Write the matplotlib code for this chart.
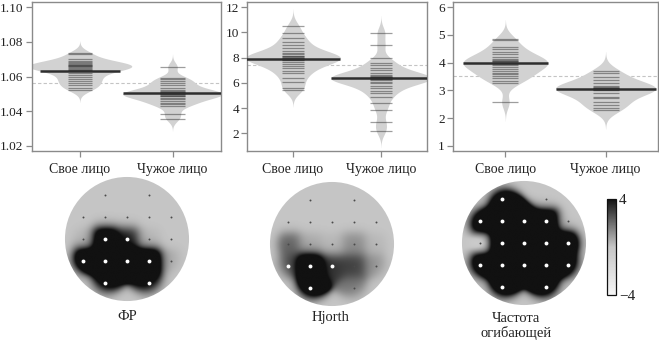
import numpy as np
import matplotlib
matplotlib.use("Agg")
import matplotlib.pyplot as plt
from matplotlib.colors import LinearSegmentedColormap
from matplotlib.patches import Circle

plt.rcParams["font.family"] = ["Liberation Serif", "DejaVu Serif"]

W, H = 659, 341

# ---------------- bean plot data ----------------
categories = ["Свое лицо", "Чужое лицо"]

fr_own = [1.0734, 1.0728, 1.0699, 1.0691, 1.0684, 1.0676, 1.0670, 1.0668, 1.0665,
          1.0661, 1.0660, 1.0653, 1.0650, 1.0645, 1.0640, 1.0638, 1.0622, 1.0611,
          1.0599, 1.0587, 1.0574, 1.0562, 1.0551, 1.0535, 1.0522]
fr_other = [1.0657, 1.0593, 1.0584, 1.0572, 1.0560, 1.0549, 1.0535, 1.0522, 1.0515,
            1.0510, 1.0508, 1.0503, 1.0500, 1.0497, 1.0495, 1.0490, 1.0487, 1.0478,
            1.0468, 1.0458, 1.0449, 1.0439, 1.0427, 1.0385, 1.0356]
fr_means = [1.0632, 1.0503]
fr_overall = 1.056

hj_own = [10.52, 9.94, 9.54, 9.28, 9.01, 8.75, 8.56, 8.40, 8.27, 8.14, 8.10, 8.05,
          8.00, 7.95, 7.90, 7.85, 7.82, 7.66, 7.50, 7.34, 7.16, 6.97, 6.76, 6.42,
          6.10, 5.57, 5.44]
hj_other = [9.99, 9.01, 7.95, 7.61, 7.42, 7.21, 7.03, 6.81, 6.63, 6.55, 6.50, 6.45,
            6.44, 6.40, 6.35, 6.35, 6.30, 6.29, 6.25, 6.10, 5.97, 5.76, 5.57, 5.39,
            5.17, 4.86, 4.38, 3.85, 2.87, 2.21]
hj_means = [7.93, 6.36]
hj_overall = 7.42

env_own = [4.86, 4.82, 4.55, 4.49, 4.40, 4.31, 4.22, 4.13, 4.10, 4.06, 4.05, 4.02,
           3.98, 3.95, 3.92, 3.86, 3.77, 3.70, 3.64, 3.59, 3.52, 3.43, 3.34, 3.25,
           2.57]
env_other = [3.71, 3.61, 3.49, 3.37, 3.25, 3.16, 3.12, 3.10, 3.08, 3.07, 3.05, 3.02,
             3.01, 2.92, 2.77, 2.71, 2.59, 2.47, 2.37, 2.29]
env_means = [4.00, 3.06]
env_overall = 3.52

# ---------------- topographic map data ----------------
electrodes = ["Fp1", "Fp2", "F7", "F3", "Fz", "F4", "F8", "T3", "C3", "Cz", "C4",
              "T4", "T5", "P3", "Pz", "P4", "T6", "O1", "O2"]
elec_x = [-1, 1, -2, -1, 0, 1, 2, -2, -1, 0, 1, 2, -2, -1, 0, 1, 2, -1, 1]
elec_y = [2, 2, 1, 1, 1, 1, 1, 0, 0, 0, 0, 0, -1, -1, -1, -1, -1, -2, -2]

map_titles = ["ФР", "Hjorth", "Частота\nогибающей"]
#          Fp1 Fp2 F7 F3 Fz F4 F8  T3   C3   Cz   C4  T4  T5   P3  Pz   P4   T6   O1   O2
fr_map = [0, 0, 0, 0, 0, 0, 0, 0.3, 7.0, 3.8, 0.3, 0, 8.5, 9, 9, 8.5, 0.6, 5.5, 5]
hj_map = [0, 0, 0, 0, 0, 0, 0, 2.3, 0.6, 0.3, 1.3, 0.3, 2.7, 8, 3.2, 3.0, 1.2, 8, 1.8]
env_map = [8, 0, 8, 8, 8, 8, 0, -1, 8, 8, 8, 8, 8, 8, 8, 8, 8, 8, 8]
fr_sig = [0, 0, 0, 0, 0, 0, 0, 0, 1, 1, 0, 0, 1, 1, 1, 1, 0, 1, 1]
hj_sig = [0, 0, 0, 0, 0, 0, 0, 0, 0, 0, 0, 0, 1, 1, 1, 0, 0, 1, 0]
env_sig = [1, 0, 1, 1, 1, 1, 0, 0, 1, 1, 1, 1, 1, 1, 1, 1, 1, 1, 1]
scale_limits = [-4, 4]

TEXT = "#222222"
SPINE = "#8a8a8a"


def px_axes(fig, x0, y0, x1, y1):
    return fig.add_axes([x0 / W, 1 - y1 / H, (x1 - x0) / W, (y1 - y0) / H])


def kde(values, grid, bw):
    v = np.asarray(values)[:, None]
    z = (grid[None, :] - v) / bw
    return np.exp(-0.5 * z ** 2).sum(0) / (len(values) * bw * np.sqrt(2 * np.pi))


def beanplot(ax, groups, means, overall, bw, half_width, ylim, yticks, fmt):
    ax.axhline(overall, color="#c4c4c4", lw=0.8, ls=(0, (3, 2)), zorder=1)
    curves = []
    for g in groups:
        y = np.linspace(min(g) - 3 * bw, max(g) + 3 * bw, 500)
        curves.append((y, kde(g, y, bw)))
    scale = half_width / max(d.max() for _, d in curves)
    for i, ((y, d), g, m) in enumerate(zip(curves, groups, means)):
        pos = i + 1
        ax.fill_betweenx(y, pos - d * scale, pos + d * scale, color="#d2d2d2",
                         lw=0, zorder=2)
        ax.hlines(g, pos - 0.13, pos + 0.13, color=(0.15, 0.15, 0.15, 0.45),
                  lw=0.9, zorder=3)
        w = np.interp(m, y, d) * scale
        ax.hlines(m, pos - w, pos + w, color="#2e2e2e", lw=1.8, zorder=4)
    ax.set_xlim(0.48, 2.52)
    ax.set_ylim(*ylim)
    ax.set_yticks(yticks)
    ax.set_yticklabels([fmt.format(t) for t in yticks])
    ax.set_xticks([1, 2])
    ax.set_xticklabels(categories)
    ax.tick_params(axis="y", length=4, width=0.9, color=SPINE, labelsize=9.5,
                   labelcolor=TEXT, pad=2)
    ax.tick_params(axis="x", length=4, width=0.9, color=SPINE, labelsize=10,
                   labelcolor=TEXT, pad=5)
    for s in ax.spines.values():
        s.set_color(SPINE)
        s.set_linewidth(1.0)


fig = plt.figure(figsize=(W / 100, H / 100), dpi=100)

ax1 = px_axes(fig, 31.7, 1.5, 220.7, 150.7)
beanplot(ax1, [fr_own, fr_other], fr_means, fr_overall, 0.0024, 0.56,
         (1.0171, 1.1034), [1.02, 1.04, 1.06, 1.08, 1.10], "{:.2f}")

ax2 = px_axes(fig, 247.3, 1.5, 426.7, 150.7)
beanplot(ax2, [hj_own, hj_other], hj_means, hj_overall, 0.45, 0.57,
         (0.62, 12.46), [2, 4, 6, 8, 10, 12], "{:d}")

ax3 = px_axes(fig, 453.3, 1.5, 657.7, 150.7)
beanplot(ax3, [env_own, env_other], env_means, env_overall, 0.23, 0.5,
         (0.82, 6.21), [1, 2, 3, 4, 5, 6], "{:d}")

# ---------------- topographic maps ----------------
cmap = LinearSegmentedColormap.from_list(
    "topo", [(0.0, "#f6f6f6"), (0.5, "#c6c6c6"), (0.75, "#6e6e6e"), (1.0, "#111111")])

SPACING = 22.0          # pixel distance between neighbouring electrodes
RADIUS = 2.82           # head radius in electrode spacings
SIGMA = 0.38
RING_R = 3.1            # zero-valued anchors just outside the head outline
centers = [(127, 239), (332, 244), (524, 243)]
maps = [fr_map, hj_map, env_map]
sigs = [fr_sig, hj_sig, env_sig]

gx = np.linspace(-3, 3, 400)
GX, GY = np.meshgrid(gx, gx)
ex = np.array(elec_x, float)
ey = np.array(elec_y, float)
ang = np.linspace(0, 2 * np.pi, 40, endpoint=False)
rx, ry = RING_R * np.cos(ang), RING_R * np.sin(ang)

im = None
for (cx, cy), vals, sig in zip(centers, maps, sigs):
    half = 3 * SPACING
    ax = px_axes(fig, cx - half, cy - half, cx + half, cy + half)
    px = np.concatenate([ex, rx])
    py = np.concatenate([ey, ry])
    pv = np.concatenate([np.array(vals, float), np.zeros_like(rx)])
    num = np.zeros_like(GX)
    den = np.zeros_like(GX)
    for x, y, v in zip(px, py, pv):
        w = np.exp(-((GX - x) ** 2 + (GY - y) ** 2) / (2 * SIGMA ** 2))
        num += w * v
        den += w
    field = num / den
    head = Circle((0, 0), RADIUS, transform=ax.transData, facecolor="none",
                  edgecolor="none")
    ax.add_patch(head)
    im = ax.imshow(field, extent=(-3, 3, -3, 3), origin="lower", cmap=cmap,
                   vmin=scale_limits[0], vmax=scale_limits[1],
                   interpolation="bilinear")
    im.set_clip_path(head)
    s = np.array(sig, bool)
    ax.plot(ex[~s], ey[~s], "o", ms=1.4, color="#4a4a4a", mec="none")
    ax.plot(ex[s], ey[s], "o", ms=2.8, color="white", mec="none")
    ax.set_xlim(-3, 3)
    ax.set_ylim(-3, 3)
    ax.axis("off")

title_pos = [(127, 317), (331, 317), (516, 318)]
for (tx, ty), title in zip(title_pos, map_titles):
    for k, line in enumerate(title.split("\n")):
        fig.text(tx / W, 1 - (ty + 15 * k) / H, line, ha="center", va="center",
                 fontsize=10.5, color=TEXT)

cax = px_axes(fig, 607, 199, 616, 295)
cb = fig.colorbar(im, cax=cax, ticks=scale_limits)
cb.ax.set_yticklabels(["\u22124", "4"])
cb.ax.tick_params(length=0, labelsize=11, labelcolor=TEXT, pad=2)
cb.outline.set_edgecolor("#111111")
cb.outline.set_linewidth(0.9)

fig.savefig("out.png", dpi=100)
